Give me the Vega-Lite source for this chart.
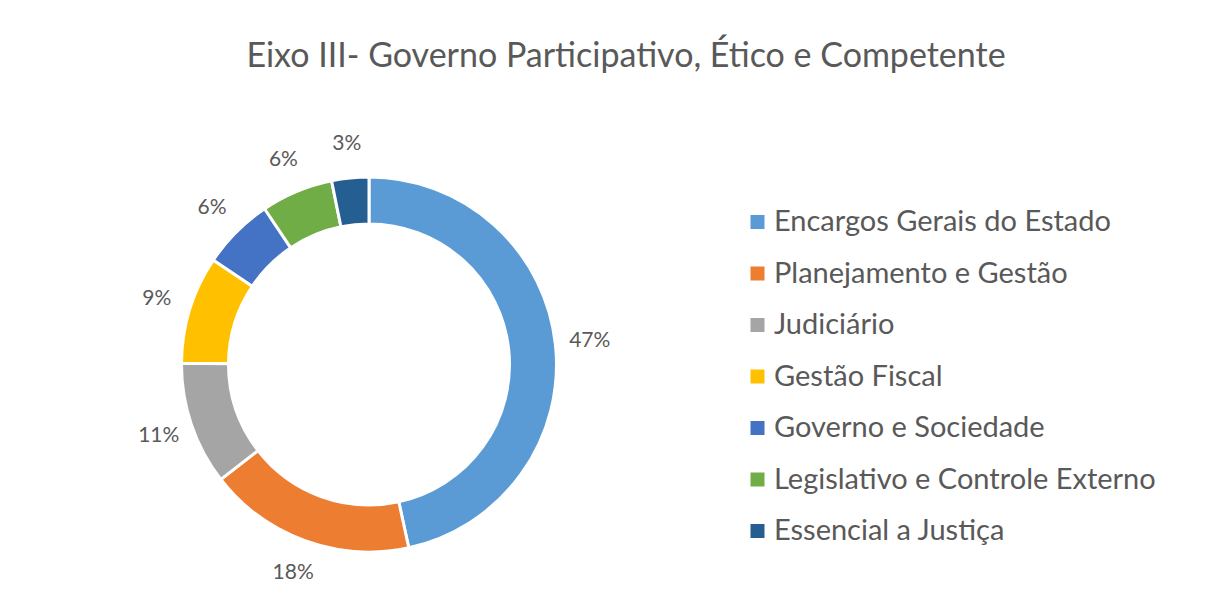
{
  "$schema": "https://vega.github.io/schema/vega-lite/v6.json",
  "autosize": {"type": "none"},
  "width": 372,
  "height": 372,
  "padding": {"left": 183, "top": 178.5, "right": 676, "bottom": 62.5},
  "background": "white",
  "title": {
    "text": "Eixo III- Governo Participativo, Ético e Competente",
    "anchor": "middle",
    "dx": 257,
    "offset": 59,
    "font": "Lato",
    "fontSize": 34,
    "fontWeight": "normal",
    "color": "#595959"
  },
  "data": {
    "values": [
      {"ordem": 1, "categoria": "Encargos Gerais do Estado", "valor": 0.466},
      {"ordem": 2, "categoria": "Planejamento e Gestão", "valor": 0.179},
      {"ordem": 3, "categoria": "Judiciário", "valor": 0.106},
      {"ordem": 4, "categoria": "Gestão Fiscal", "valor": 0.093},
      {"ordem": 5, "categoria": "Governo e Sociedade", "valor": 0.062},
      {"ordem": 6, "categoria": "Legislativo e Controle Externo", "valor": 0.062},
      {"ordem": 7, "categoria": "Essencial a Justiça", "valor": 0.032}
    ]
  },
  "encoding": {
    "theta": {"field": "valor", "type": "quantitative", "stack": true},
    "order": {"field": "ordem", "type": "quantitative"},
    "color": {
      "field": "categoria",
      "type": "nominal",
      "scale": {
        "domain": ["Encargos Gerais do Estado", "Planejamento e Gestão", "Judiciário", "Gestão Fiscal", "Governo e Sociedade", "Legislativo e Controle Externo", "Essencial a Justiça"],
        "range": ["#5B9BD5", "#ED7D31", "#A5A5A5", "#FFC000", "#4472C4", "#70AD47", "#255E91"]
      },
      "legend": {
        "title": null,
        "orient": "none",
        "legendX": 560,
        "legendY": 29,
        "symbolType": "square",
        "symbolSize": 196,
        "symbolStrokeWidth": 0,
        "symbolOpacity": 1,
        "labelFont": "Lato",
        "labelFontSize": 29,
        "labelColor": "#595959",
        "labelOffset": 2,
        "rowPadding": 21.5,
        "labelLimit": 600
      }
    }
  },
  "layer": [
    {
      "mark": {"type": "arc", "outerRadius": 187.5, "innerRadius": 140.5, "stroke": "white", "strokeWidth": 3}
    },
    {
      "mark": {"type": "text", "radius": 222, "font": "Lato", "fontSize": 21},
      "encoding": {
        "text": {"field": "valor", "type": "quantitative", "format": ".0%"},
        "color": {"value": "#595959"}
      }
    }
  ]
}
